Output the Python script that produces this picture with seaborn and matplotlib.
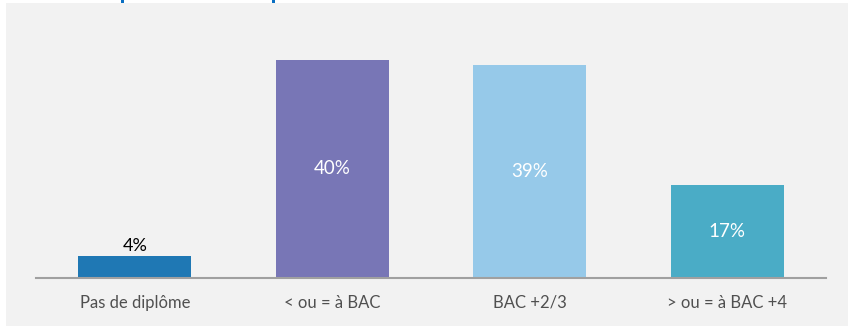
import matplotlib
matplotlib.use("Agg")
import matplotlib.pyplot as plt
import matplotlib.patches as mpatches
import seaborn as sns
import pandas as pd

# data
categories = ["Pas de diplôme", "< ou = à BAC", "BAC +2/3", "> ou = à BAC +4"]
values = [4, 40, 39, 17]
labels = ["4%", "40%", "39%", "17%"]
colors = ["#1f78b4", "#7876b6", "#96c9e9", "#4aacc6"]

df = pd.DataFrame({"cat": categories, "val": values})

sns.set_style("white")
plt.rcParams["font.family"] = ["Lato", "DejaVu Sans"]

fig = plt.figure(figsize=(8.48, 3.26), dpi=100)
fig.patch.set_facecolor("white")
# grey panel behind the chart
fig.patches.append(mpatches.Rectangle((6 / 848, 0), 1, 1 - 3 / 326,
                                      transform=fig.transFigure,
                                      facecolor="#f2f2f2", edgecolor="none", zorder=-10))
# bits of the cut-off title
for x in (121, 272):
    fig.patches.append(mpatches.Rectangle((x / 848, 1 - 3 / 326), 3 / 848, 3 / 326,
                                          transform=fig.transFigure,
                                          facecolor="#0a6fc2", edgecolor="none", zorder=-5))

# axes: x 36..826 px, baseline at y=278 px, 5.45 px per %
top_val = 45
ax = fig.add_axes([36 / 848, (326 - 278) / 326, 790 / 848, top_val * 5.45 / 326])
ax.set_facecolor("none")
ax.set_zorder(1)

sns.barplot(data=df, x="cat", y="val", hue="cat", palette=colors,
            width=0.572, legend=False, saturation=1, linewidth=0, ax=ax)

ax.set_xlim(-0.5, 3.5)
ax.set_ylim(0, top_val)

for i, (v, lab) in enumerate(zip(values, labels)):
    if v < 10:
        ax.text(i, v + 0.4, lab, ha="center", va="bottom", fontsize=13, color="#000000")
    else:
        ax.text(i, v / 2, lab, ha="center", va="center", fontsize=13.5, color="white")

for s in ["top", "right", "left"]:
    ax.spines[s].set_visible(False)
ax.spines["bottom"].set_color("#a0a0a0")
ax.spines["bottom"].set_linewidth(1.5)
ax.set_yticks([])
ax.set_xlabel("")
ax.set_ylabel("")
ax.tick_params(axis="x", length=0, pad=12, labelsize=12, labelcolor="#505050")

fig.savefig("out.png", dpi=100)
